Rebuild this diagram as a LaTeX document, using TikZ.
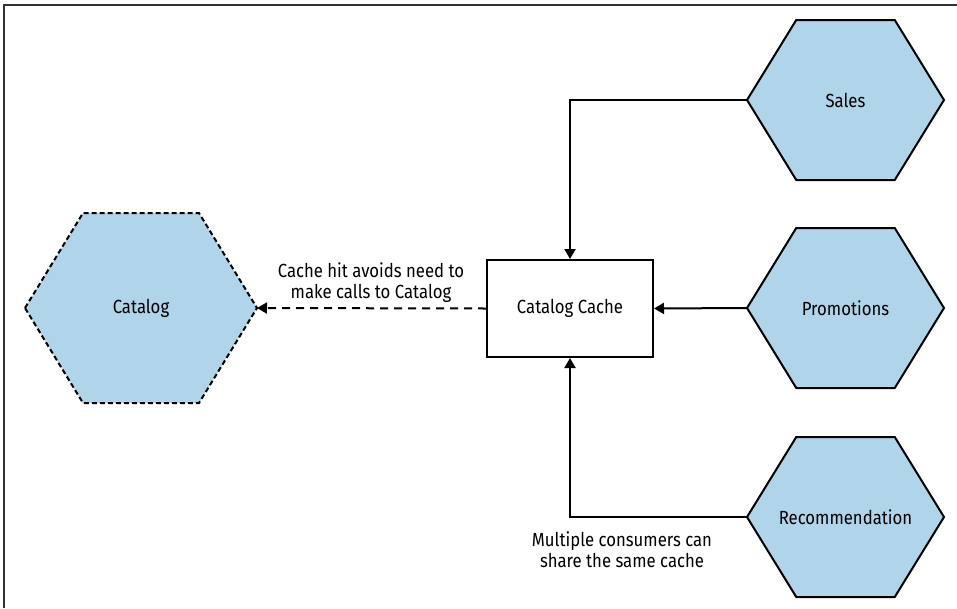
\documentclass[tikz,border=0pt]{standalone}
\usepackage{fontspec}
\setmainfont{Fira Sans}[FakeStretch=0.88]
\usetikzlibrary{arrows.meta}
\definecolor{hexblue}{RGB}{176,212,234}
\definecolor{framegray}{RGB}{50,50,50}
\newcommand\hexagonnode[7]{% #1 name, #2 x, #3 y, #4 half width, #5 half height, #6 style, #7 text
  \draw[#6] (#2-#4,#3) coordinate (#1W) -- ++(#4/2,-#5) -- ++(#4,0) -- ++(#4/2,#5) coordinate (#1E) -- ++(-#4/2,#5) -- ++(-#4,0) -- cycle;
  \node[hextext] (#1) at (#2,#3) {#7};}
\begin{document}
\begin{tikzpicture}[x=1pt,y=-1pt,
  every node/.style={font=\fontsize{19}{21}\selectfont},
  hexsolid/.style={fill=hexblue, draw=black, line width=2pt, line join=miter},
  hexdashed/.style={fill=hexblue, draw=black, line width=2pt, dash pattern=on 5pt off 3pt},
  hextext/.style={inner sep=0pt},
  cachebox/.style={draw=black, fill=white, line width=2pt, minimum width=166pt, minimum height=97pt, inner sep=0pt},
  conn/.style={draw=black, line width=2pt, -{Triangle[length=10pt,width=11pt]}},
  dconn/.style={conn, dash pattern=on 8pt off 6pt},
  note/.style={align=center, inner sep=0pt},
  framestyle/.style={draw=framegray, line width=2pt}]
\useasboundingbox (0,0) rectangle (957,608);
\draw[framestyle] (4,608) -- (4,5) -- (957,5);
\hexagonnode{catalog}{141}{308}{116}{95}{hexdashed}{Catalog}
\hexagonnode{sales}{845.5}{100}{98.5}{80}{hexsolid}{Sales}
\hexagonnode{promo}{845.5}{308}{98.5}{80}{hexsolid}{Promotions}
\hexagonnode{rec}{845.5}{517}{98.5}{80}{hexsolid}{Recommendation}
\node[cachebox] (cache) at (570,308.5) {Catalog Cache};
\draw[conn] (salesW) -| (cache.north);
\draw[conn] (promoW) -- (cache.east);
\draw[conn] (recW) -| (cache.south);
\draw[dconn] (cache.west) -- (catalogE);
\node[note] (hitnote) at (371,283) {Cache hit avoids need to\\make calls to Catalog};
\node[note] (sharenote) at (622,550) {Multiple consumers can\\share the same cache};
\end{tikzpicture}
\end{document}
